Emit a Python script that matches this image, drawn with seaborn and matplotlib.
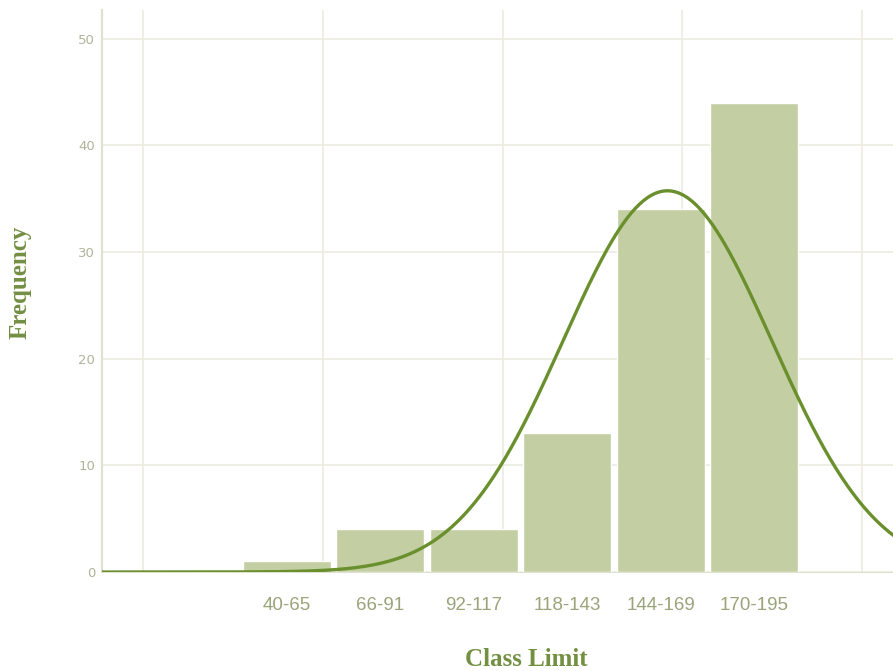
import numpy as np
import pandas as pd
import matplotlib
matplotlib.use("Agg")
import matplotlib.pyplot as plt
import seaborn as sns

# class data
class_labels = ["40-65", "66-91", "92-117", "118-143", "144-169", "170-195"]
class_mid = [52.5, 78.5, 104.5, 130.5, 156.5, 182.5]
frequency = [1, 4, 4, 13, 34, 44]
bin_width = 26

bar_color = "#c3cfa3"
curve_color = "#6a8f2d"
label_color = "#738f42"

df = pd.DataFrame({"mid": class_mid, "freq": frequency, "label": class_labels})

# normal curve fitted to the grouped data
n = df["freq"].sum()
mean = (df["mid"] * df["freq"]).sum() / n
sd = np.sqrt((df["freq"] * (df["mid"] - mean) ** 2).sum() / n)
xs = np.linspace(0, 225, 400)
ys = n * bin_width * np.exp(-0.5 * ((xs - mean) / sd) ** 2) / (sd * np.sqrt(2 * np.pi))
curve = pd.DataFrame({"x": xs, "y": ys})

sns.set_style("white")
fig = plt.figure(figsize=(8.93, 6.71), dpi=100)
ax = fig.add_axes([0.1142, 0.1475, 0.8858, 0.8375])

sns.barplot(data=df, x="mid", y="freq", native_scale=True, width=0.94,
            color=bar_color, saturation=1, ax=ax, zorder=2)
sns.lineplot(data=curve, x="x", y="y", color=curve_color, linewidth=2.4,
             ax=ax, zorder=3)

ax.set_xlim(1.2, 221)
ax.set_ylim(0, 52.7)

ax.set_xticks(class_mid)
ax.set_xticklabels(class_labels)
ax.set_xticks([12.5, 62.5, 112.5, 162.5, 212.5], minor=True)
ax.set_yticks([0, 10, 20, 30, 40, 50])

ax.grid(False)
ax.grid(which="minor", axis="x", color="#ebebdf", linewidth=1.2, zorder=0)
ax.grid(which="major", axis="y", color="#ebebdf", linewidth=1.2, zorder=0)
ax.set_axisbelow(True)

ax.tick_params(axis="x", which="both", length=0, pad=18, labelsize=13.5,
               labelcolor="#9aa37a")
ax.tick_params(axis="y", length=0, pad=5, labelsize=9.5, labelcolor="#b0b39a")
for lbl in ax.get_xticklabels():
    lbl.set_fontfamily("Liberation Sans")
for lbl in ax.get_yticklabels():
    lbl.set_fontfamily("DejaVu Sans")

for side in ["top", "right"]:
    ax.spines[side].set_visible(False)
ax.spines["left"].set_color("#dfe0d0")
ax.spines["bottom"].set_color("#dfe0d0")
ax.spines["left"].set_linewidth(1.5)

ax.set_xlabel("Class Limit", fontsize=18, fontweight="bold",
              fontfamily="Liberation Serif", color=label_color)
ax.set_ylabel("Frequency", fontsize=18, fontweight="bold",
              fontfamily="Liberation Serif", color=label_color)
ax.xaxis.set_label_coords(0.537, -0.155)
ax.yaxis.set_label_coords(-0.104, 0.516)
ax.xaxis.label.set_va("center")
ax.yaxis.label.set_va("center")

fig.savefig("out.png", dpi=100)
